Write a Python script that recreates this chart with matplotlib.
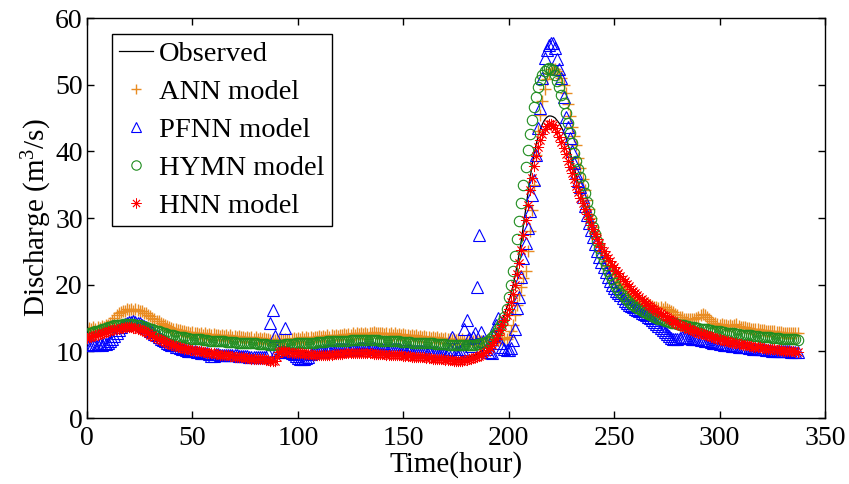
import numpy as np
import matplotlib
matplotlib.use("Agg")
import matplotlib.pyplot as plt

plt.rcParams['font.family'] = ['Liberation Serif', 'DejaVu Serif']
plt.rcParams['mathtext.fontset'] = 'custom'
plt.rcParams['mathtext.rm'] = 'Liberation Serif'
plt.rcParams['mathtext.it'] = 'Liberation Serif:italic'

observed = [
    12.2, 12.3, 12.4, 12.5, 12.6, 12.7, 12.8, 12.9, 13.0, 13.1,
    13.2, 13.3, 13.4, 13.5, 13.5, 13.6, 13.7, 13.7, 13.8, 13.8,
    13.8, 13.8, 13.7, 13.7, 13.6, 13.5, 13.4, 13.2, 13.1, 12.9,
    12.7, 12.6, 12.4, 12.2, 12.1, 11.9, 11.7, 11.6, 11.4, 11.3,
    11.2, 11.1, 11.0, 10.9, 10.8, 10.7, 10.6, 10.6, 10.5, 10.4,
    10.4, 10.3, 10.3, 10.2, 10.2, 10.1, 10.1, 10.0, 10.0, 9.9,
    9.9, 9.8, 9.8, 9.7, 9.7, 9.6, 9.6, 9.6, 9.5, 9.5,
    9.4, 9.4, 9.4, 9.3, 9.3, 9.2, 9.2, 9.2, 9.1, 9.1,
    9.1, 9.1, 9.0, 9.0, 9.0, 8.9, 8.9, 8.8, 8.8, 8.9,
    9.5, 10.1, 10.3, 10.2, 10.2, 10.1, 10.1, 10.0, 10.0, 10.0,
    9.9, 9.9, 9.9, 9.8, 9.8, 9.8, 9.8, 9.7, 9.7, 9.7,
    9.7, 9.7, 9.7, 9.7, 9.7, 9.7, 9.7, 9.8, 9.8, 9.8,
    9.8, 9.8, 9.9, 9.9, 9.9, 9.9, 9.9, 9.9, 9.9, 9.9,
    9.9, 9.9, 9.9, 9.9, 9.9, 9.9, 9.8, 9.8, 9.8, 9.8,
    9.8, 9.8, 9.7, 9.7, 9.7, 9.7, 9.6, 9.6, 9.6, 9.6,
    9.5, 9.5, 9.5, 9.5, 9.4, 9.4, 9.4, 9.4, 9.3, 9.3,
    9.3, 9.2, 9.2, 9.2, 9.1, 9.1, 9.1, 9.0, 9.0, 9.0,
    8.9, 8.9, 8.9, 8.9, 8.8, 8.8, 8.8, 8.8, 8.8, 8.9,
    9.0, 9.1, 9.2, 9.3, 9.4, 9.6, 9.8, 10.0, 10.2, 10.5,
    10.8, 11.2, 11.6, 12.1, 12.7, 13.3, 14.0, 14.8, 15.6, 16.5,
    17.4, 18.5, 19.8, 21.3, 22.9, 24.7, 26.7, 28.9, 31.2, 33.5,
    35.7, 37.7, 39.5, 41.0, 42.3, 43.3, 44.1, 44.7, 45.1, 45.3,
    45.3, 45.2, 45.0, 44.6, 44.2, 43.6, 43.0, 42.2, 41.2, 40.0,
    38.8, 37.6, 36.4, 35.2, 34.1, 33.0, 32.0, 31.0, 30.1, 29.2,
    28.4, 27.7, 27.0, 26.4, 25.8, 25.2, 24.6, 24.1, 23.6, 23.1,
    22.7, 22.2, 21.8, 21.4, 21.0, 20.6, 20.2, 19.9, 19.5, 19.2,
    18.9, 18.6, 18.3, 18.0, 17.7, 17.4, 17.1, 16.9, 16.6, 16.4,
    16.2, 16.0, 15.8, 15.6, 15.4, 15.2, 15.0, 14.8, 14.6, 14.4,
    14.2, 14.1, 13.9, 13.8, 13.7, 13.5, 13.4, 13.3, 13.2, 13.0,
    12.9, 12.8, 12.7, 12.6, 12.5, 12.4, 12.3, 12.2, 12.1, 12.0,
    11.9, 11.8, 11.7, 11.7, 11.6, 11.5, 11.4, 11.4, 11.3, 11.2,
    11.2, 11.1, 11.0, 11.0, 10.9, 10.9, 10.8, 10.8, 10.7, 10.7,
    10.6, 10.6, 10.5, 10.5, 10.4, 10.4, 10.4, 10.3, 10.3, 10.3,
    10.2, 10.2, 10.2, 10.1, 10.1, 10.1, 10.0, 10.0,
]

ann = [
    13.2, 13.5, 13.3, 13.6, 13.4, 13.7, 13.5, 13.8, 13.6, 13.9,
    14.0, 14.3, 14.6, 15.0, 15.4, 15.7, 15.9, 16.1, 16.0, 16.3,
    16.2, 16.4, 16.1, 16.3, 16.2, 16.0, 16.1, 15.8, 15.7, 15.4,
    15.3, 15.0, 14.9, 14.6, 14.5, 14.2, 14.1, 13.9, 13.8, 13.6,
    13.5, 13.4, 13.3, 13.2, 13.2, 13.0, 13.1, 12.9, 12.9, 12.8,
    12.9, 12.7, 12.8, 12.6, 12.7, 12.5, 12.7, 12.5, 12.6, 12.4,
    12.6, 12.4, 12.5, 12.3, 12.5, 12.3, 12.4, 12.2, 12.4, 12.2,
    12.3, 12.1, 12.3, 12.1, 12.2, 12.0, 12.2, 12.0, 12.1, 11.9,
    12.1, 11.9, 12.0, 11.8, 12.0, 11.8, 11.9, 11.7, 11.9, 11.7,
    11.8, 11.7, 11.9, 11.7, 11.8, 11.7, 11.9, 11.8, 12.0, 11.8,
    12.0, 11.9, 12.1, 11.9, 12.1, 12.0, 12.2, 12.0, 12.2, 12.1,
    12.3, 12.1, 12.3, 12.2, 12.4, 12.2, 12.4, 12.3, 12.5, 12.3,
    12.5, 12.4, 12.6, 12.4, 12.6, 12.5, 12.7, 12.5, 12.7, 12.6,
    12.8, 12.6, 12.8, 12.6, 12.8, 12.7, 12.9, 12.7, 12.8, 12.7,
    12.8, 12.6, 12.8, 12.6, 12.7, 12.5, 12.7, 12.5, 12.6, 12.4,
    12.6, 12.4, 12.5, 12.3, 12.5, 12.3, 12.4, 12.2, 12.3, 12.1,
    12.3, 12.1, 12.2, 12.0, 12.2, 12.0, 12.1, 11.9, 12.0, 11.8,
    12.0, 11.8, 11.9, 11.7, 11.9, 11.7, 11.8, 11.6, 11.8, 11.6,
    11.7, 11.6, 11.7, 11.5, 11.7, 11.5, 11.6, 11.5, 11.6, 11.5,
    11.6, 11.5, 11.7, 11.6, 11.8, 11.7, 11.9, 11.8, 12.0, 11.9,
    12.2, 13.0, 14.0, 15.5, 17.0, 18.4, 19.7, 21.0, 22.0, 25.0,
    28.0, 31.2, 35.0, 39.5, 43.0, 45.5, 47.5, 49.3, 50.8, 51.8,
    52.3, 52.4, 52.3, 52.0, 51.6, 51.0, 50.0, 48.7, 47.1, 45.3,
    43.6, 42.3, 41.0, 39.0, 37.5, 35.8, 34.2, 32.7, 31.3, 30.0,
    28.7, 27.7, 26.8, 25.9, 25.0, 24.2, 23.5, 22.8, 22.2, 21.6,
    21.0, 20.6, 20.2, 19.9, 19.6, 19.3, 19.0, 18.8, 18.5, 18.3,
    18.1, 17.9, 17.7, 17.5, 17.4, 17.2, 17.1, 16.9, 16.8, 16.7,
    16.6, 16.5, 16.7, 16.4, 16.6, 16.3, 16.2, 16.0, 15.9, 15.6,
    15.4, 15.2, 15.1, 14.9, 14.9, 14.8, 14.8, 14.8, 14.9, 15.0,
    15.2, 15.4, 15.6, 15.5, 15.2, 14.8, 14.5, 14.3, 14.2, 14.1,
    14.0, 14.1, 13.9, 14.0, 13.8, 13.9, 13.8, 14.0, 14.1, 13.8,
    13.7, 13.6, 13.6, 13.5, 13.5, 13.4, 13.4, 13.3, 13.3, 13.2,
    13.2, 13.2, 13.1, 13.1, 13.0, 13.0, 13.0, 12.9, 12.9, 12.9,
    12.8, 12.8, 12.8, 12.8, 12.7, 12.7, 12.7, 12.7,
]

pfnn = [
    11.0, 10.9, 11.0, 11.1, 10.9, 11.0, 11.1, 11.0, 11.2, 11.1,
    11.3, 11.5, 11.9, 12.3, 12.8, 13.2, 13.6, 13.9, 14.1, 14.3,
    14.4, 14.4, 14.5, 14.4, 14.3, 14.2, 14.0, 13.8, 13.6, 13.4,
    13.1, 12.9, 12.6, 12.4, 12.1, 11.9, 11.7, 11.5, 11.3, 11.1,
    11.0, 10.9, 10.7, 10.6, 10.5, 10.4, 10.3, 10.2, 10.1, 10.1,
    10.0, 10.0, 9.9, 9.9, 9.8, 9.8, 9.7, 9.7, 9.6, 9.3,
    9.3, 9.6, 9.6, 9.5, 9.5, 9.5, 9.5, 9.4, 9.4, 9.4,
    9.4, 9.4, 9.3, 9.3, 9.3, 9.3, 9.3, 9.2, 9.2, 9.2,
    9.2, 9.2, 9.2, 9.2, 9.1, 9.1, 9.8, 14.3, 16.2, 12.3,
    10.2, 9.9, 9.9, 10.0, 13.5, 10.0, 9.9, 9.8, 9.6, 9.3,
    9.0, 8.9, 8.9, 8.9, 9.0, 9.1, 9.6, 9.8, 9.9, 9.9,
    10.0, 10.1, 10.1, 10.1, 10.2, 10.2, 10.2, 10.2, 10.3, 10.3,
    10.3, 10.3, 10.3, 10.4, 10.4, 10.4, 10.4, 10.4, 10.4, 10.5,
    10.5, 10.5, 10.5, 10.5, 10.5, 10.5, 10.5, 10.4, 10.4, 10.4,
    10.4, 10.4, 10.4, 10.4, 10.3, 10.3, 10.3, 10.3, 10.3, 10.2,
    10.2, 10.2, 10.2, 10.2, 10.1, 10.1, 10.1, 10.1, 10.0, 10.0,
    10.0, 10.0, 10.0, 9.9, 9.9, 9.9, 9.9, 9.8, 9.8, 9.8,
    9.8, 9.8, 10.3, 12.2, 10.4, 9.9, 9.9, 10.0, 10.3, 13.3,
    14.7, 12.0, 10.8, 12.2, 12.8, 19.6, 27.5, 12.9, 11.5, 10.3,
    9.9, 9.9, 9.8, 12.5, 14.0, 15.0, 11.3, 10.6, 10.3, 10.2,
    10.2, 10.5, 11.7, 13.4, 16.5, 18.2, 21.2, 24.0, 26.3, 28.5,
    31.0, 33.5, 35.7, 39.4, 43.5, 46.5, 51.0, 54.0, 55.2, 56.0,
    56.2, 56.2, 55.5, 53.8, 52.4, 51.0, 48.2, 45.2, 43.7, 42.0,
    40.0, 38.2, 36.7, 35.5, 34.7, 33.2, 31.8, 30.5, 29.3, 28.2,
    27.1, 26.1, 25.1, 24.2, 23.4, 22.6, 21.9, 21.2, 20.6, 20.0,
    19.5, 19.1, 18.7, 18.4, 18.0, 17.6, 17.3, 17.0, 16.8, 16.6,
    16.4, 16.2, 16.0, 15.8, 15.6, 15.4, 15.2, 15.0, 14.7, 14.4,
    14.1, 13.8, 13.5, 13.2, 12.9, 12.6, 12.3, 12.0, 11.8, 11.8,
    11.9, 12.0, 12.1, 12.1, 12.1, 12.0, 12.0, 11.9, 11.9, 11.8,
    11.8, 11.7, 11.7, 11.6, 11.5, 11.5, 11.4, 11.3, 11.3, 11.2,
    11.1, 11.1, 11.0, 11.0, 10.9, 10.9, 10.8, 10.8, 10.8, 10.7,
    10.7, 10.6, 10.6, 10.6, 10.5, 10.5, 10.4, 10.4, 10.4, 10.3,
    10.3, 10.3, 10.2, 10.2, 10.2, 10.1, 10.1, 10.1, 10.1, 10.0,
    10.0, 10.0, 10.0, 10.0, 9.9, 9.9, 9.9, 9.9,
]

hymn = [
    12.6, 12.7, 12.8, 12.9, 13.0, 13.1, 13.2, 13.3, 13.4, 13.5,
    13.6, 13.7, 13.8, 13.9, 13.9, 14.0, 14.0, 14.1, 14.1, 14.1,
    14.1, 14.1, 14.1, 14.0, 14.0, 13.9, 13.8, 13.7, 13.6, 13.5,
    13.4, 13.3, 13.2, 13.1, 13.0, 12.9, 12.8, 12.7, 12.6, 12.5,
    12.4, 12.4, 12.3, 12.2, 12.2, 12.1, 12.1, 12.0, 12.0, 11.9,
    11.9, 11.9, 11.8, 11.8, 11.8, 11.7, 11.7, 11.7, 11.6, 11.6,
    11.6, 11.6, 11.5, 11.5, 11.5, 11.5, 11.4, 11.4, 11.4, 11.4,
    11.4, 11.3, 11.3, 11.3, 11.3, 11.3, 11.2, 11.2, 11.2, 11.2,
    11.2, 11.1, 11.1, 11.1, 11.1, 11.1, 11.0, 11.0, 11.0, 11.0,
    11.0, 11.0, 11.0, 11.0, 11.1, 11.1, 11.1, 11.1, 11.1, 11.2,
    11.2, 11.2, 11.2, 11.2, 11.3, 11.3, 11.3, 11.3, 11.3, 11.4,
    11.4, 11.4, 11.4, 11.4, 11.5, 11.5, 11.5, 11.5, 11.5, 11.6,
    11.6, 11.6, 11.6, 11.6, 11.6, 11.7, 11.7, 11.7, 11.7, 11.7,
    11.7, 11.7, 11.7, 11.7, 11.7, 11.7, 11.7, 11.7, 11.7, 11.6,
    11.6, 11.6, 11.6, 11.6, 11.5, 11.5, 11.5, 11.5, 11.5, 11.4,
    11.4, 11.4, 11.4, 11.4, 11.3, 11.3, 11.3, 11.3, 11.3, 11.2,
    11.2, 11.2, 11.2, 11.2, 11.2, 11.1, 11.1, 11.1, 11.1, 11.1,
    11.1, 11.0, 11.0, 11.0, 11.0, 11.0, 11.0, 11.0, 11.0, 11.0,
    11.0, 11.0, 11.0, 11.0, 11.0, 11.1, 11.1, 11.2, 11.3, 11.4,
    11.6, 11.8, 12.1, 12.4, 12.8, 13.3, 13.8, 14.4, 15.1, 16.3,
    18.2, 20.0, 22.0, 24.3, 26.8, 29.5, 32.2, 35.0, 37.7, 40.2,
    42.6, 44.7, 46.6, 48.2, 49.6, 50.7, 51.5, 52.0, 52.4, 52.5,
    52.4, 52.2, 51.5, 50.6, 49.6, 48.5, 47.2, 45.7, 44.3, 42.7,
    41.2, 39.8, 38.6, 37.4, 36.2, 35.0, 33.7, 32.4, 31.1, 29.9,
    28.7, 27.6, 26.5, 25.5, 24.6, 23.7, 22.9, 22.1, 21.4, 20.8,
    20.2, 19.7, 19.2, 18.8, 18.4, 18.0, 17.7, 17.4, 17.1, 16.9,
    16.7, 16.5, 16.3, 16.1, 15.9, 15.7, 15.6, 15.4, 15.3, 15.1,
    15.0, 14.9, 14.8, 14.7, 14.6, 14.5, 14.4, 14.3, 14.2, 14.2,
    14.1, 14.0, 14.0, 13.9, 13.8, 13.8, 13.7, 13.6, 13.6, 13.5,
    13.5, 13.4, 13.4, 13.3, 13.3, 13.2, 13.2, 13.1, 13.1, 13.0,
    13.0, 12.9, 12.9, 12.8, 12.8, 12.7, 12.7, 12.7, 12.6, 12.6,
    12.5, 12.5, 12.5, 12.4, 12.4, 12.4, 12.3, 12.3, 12.3, 12.2,
    12.2, 12.2, 12.1, 12.1, 12.1, 12.0, 12.0, 12.0, 12.0, 11.9,
    11.9, 11.9, 11.9, 11.8, 11.8, 11.8, 11.8, 11.7,
]

hnn = [
    12.0, 12.1, 12.2, 12.3, 12.4, 12.5, 12.6, 12.7, 12.8, 12.9,
    13.0, 13.1, 13.2, 13.3, 13.3, 13.4, 13.5, 13.5, 13.6, 13.6,
    13.6, 13.6, 13.5, 13.5, 13.4, 13.3, 13.2, 13.0, 12.9, 12.7,
    12.5, 12.4, 12.2, 12.0, 11.9, 11.7, 11.5, 11.4, 11.2, 11.1,
    11.0, 10.9, 10.8, 10.7, 10.6, 10.5, 10.4, 10.4, 10.3, 10.2,
    10.2, 10.1, 10.1, 10.0, 10.0, 9.9, 9.9, 9.8, 9.8, 9.7,
    9.7, 9.6, 9.6, 9.5, 9.5, 9.4, 9.4, 9.4, 9.3, 9.3,
    9.2, 9.2, 9.2, 9.1, 9.1, 9.0, 9.0, 9.0, 8.9, 8.9,
    8.9, 8.9, 8.8, 8.8, 8.8, 8.7, 8.7, 8.6, 8.5, 8.5,
    9.2, 9.9, 10.1, 10.0, 10.0, 9.9, 9.9, 9.8, 9.8, 9.8,
    9.7, 9.7, 9.7, 9.6, 9.6, 9.6, 9.6, 9.5, 9.5, 9.5,
    9.5, 9.5, 9.5, 9.5, 9.5, 9.5, 9.5, 9.6, 9.6, 9.6,
    9.6, 9.6, 9.7, 9.7, 9.7, 9.7, 9.7, 9.7, 9.7, 9.7,
    9.7, 9.7, 9.7, 9.7, 9.7, 9.7, 9.6, 9.6, 9.6, 9.6,
    9.6, 9.6, 9.5, 9.5, 9.5, 9.5, 9.4, 9.4, 9.4, 9.4,
    9.3, 9.3, 9.3, 9.3, 9.2, 9.2, 9.2, 9.2, 9.1, 9.1,
    9.1, 9.0, 9.0, 9.0, 8.9, 8.9, 8.9, 8.8, 8.8, 8.8,
    8.7, 8.7, 8.7, 8.7, 8.6, 8.6, 8.6, 8.6, 8.6, 8.7,
    8.7, 8.8, 8.9, 9.0, 9.1, 9.2, 9.3, 9.5, 9.7, 9.9,
    10.2, 10.5, 10.9, 11.4, 11.9, 12.5, 13.2, 13.9, 14.7, 15.5,
    16.4, 17.4, 18.6, 20.0, 21.6, 23.3, 25.2, 27.4, 29.7, 32.0,
    34.2, 36.0, 37.8, 39.3, 40.6, 41.7, 42.6, 43.3, 43.8, 44.1,
    44.1, 43.9, 43.5, 42.9, 42.2, 41.4, 40.5, 39.6, 38.6, 37.6,
    36.7, 35.8, 34.8, 33.9, 33.0, 32.2, 31.4, 30.6, 29.8, 29.0,
    28.3, 27.6, 26.9, 26.3, 25.7, 25.1, 24.5, 24.0, 23.5, 23.0,
    22.6, 22.1, 21.7, 21.3, 20.9, 20.5, 20.1, 19.8, 19.4, 19.1,
    18.8, 18.5, 18.2, 17.9, 17.6, 17.3, 17.0, 16.8, 16.5, 16.3,
    16.1, 15.9, 15.7, 15.5, 15.3, 15.1, 14.9, 14.7, 14.5, 14.3,
    14.1, 14.0, 13.8, 13.7, 13.6, 13.4, 13.3, 13.2, 13.1, 12.9,
    12.8, 12.7, 12.6, 12.5, 12.4, 12.3, 12.2, 12.1, 12.0, 11.9,
    11.8, 11.7, 11.6, 11.6, 11.5, 11.4, 11.3, 11.3, 11.2, 11.1,
    11.1, 11.0, 10.9, 10.9, 10.8, 10.8, 10.7, 10.7, 10.6, 10.6,
    10.5, 10.5, 10.4, 10.4, 10.3, 10.3, 10.3, 10.2, 10.2, 10.2,
    10.1, 10.1, 10.1, 10.0, 10.0, 10.0, 9.9, 9.9,
]

x_ticks = [0, 50, 100, 150, 200, 250, 300, 350]
y_ticks = [0, 10, 20, 30, 40, 50, 60]

fig = plt.figure(figsize=(8.49, 4.84), dpi=100)
ax = fig.add_axes([87 / 849, 1 - 418 / 484, 738 / 849, 400 / 484])

ax.plot(np.arange(len(observed)), observed, color='black', lw=0.9,
        label='Observed', zorder=1)
ax.plot(np.arange(len(ann)), ann, ls='none', marker='+', ms=8.5, mew=1.0,
        color='#E98C22', label='ANN model', zorder=2)
ax.plot(np.arange(len(pfnn)), pfnn, ls='none', marker='^', ms=8.5, mew=0.8,
        mfc='none', mec='#0000FF', label='PFNN model', zorder=3)
ax.plot(np.arange(len(hymn)), hymn, ls='none', marker='o', ms=7.5, mew=0.8,
        mfc='none', mec='#1E8C1E', label='HYMN model', zorder=4)
ax.plot(np.arange(len(hnn)), hnn, ls='none', marker=(8, 2, 0), ms=8, mew=0.6,
        color='#FF0000', label='HNN model', zorder=5)

ax.set_xlim(0, 350)
ax.set_ylim(0, 60)
ax.set_xticks(x_ticks)
ax.set_yticks(y_ticks)
ax.tick_params(direction='in', length=5, width=1, top=True, right=True,
               labelsize=20)
ax.tick_params(axis='x', pad=6)
ax.tick_params(axis='y', pad=3)
for s in ax.spines.values():
    s.set_linewidth(1.0)

ax.set_xlabel('Time(hour)', fontsize=21, labelpad=0)
ax.set_ylabel('Discharge (m$^{3}$/s)', fontsize=21, labelpad=1)

leg = ax.legend(loc='upper left', bbox_to_anchor=(0.034, 0.96),
                borderaxespad=0, fontsize=20.5, frameon=True, fancybox=False,
                edgecolor='black', framealpha=1, handlelength=1.2,
                handletextpad=0.2, labelspacing=0.42, borderpad=0.25,
                markerscale=0.9)
leg.get_frame().set_linewidth(1.0)

fig.savefig('out.png', dpi=100)
